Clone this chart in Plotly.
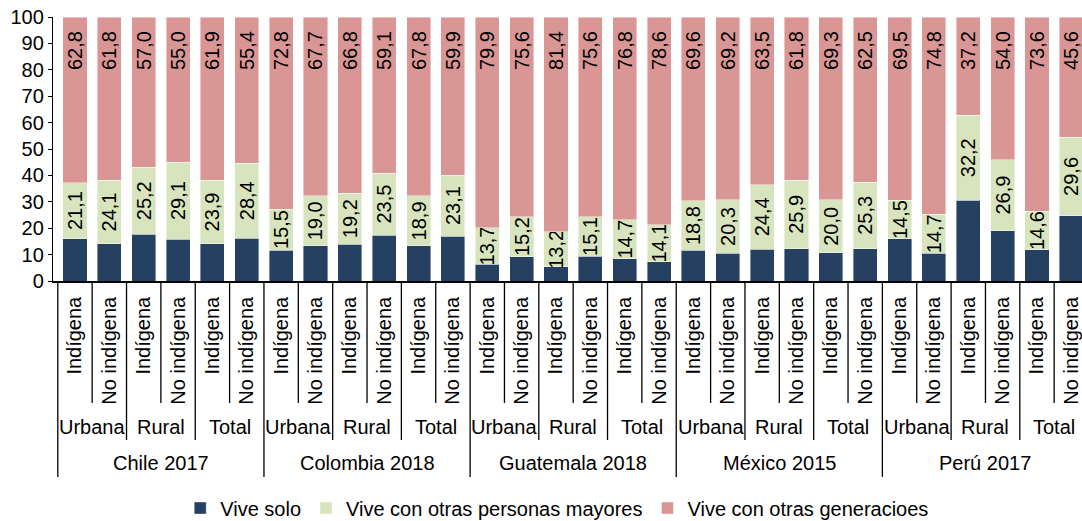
import plotly.graph_objects as go

countries = ["Chile 2017", "Colombia 2018", "Guatemala 2018", "México 2015", "Perú 2017"]
areas = ["Urbana", "Rural", "Total"]
groups = ["Indígena", "No indígena"]

vive_solo = [16.1, 14.1, 17.8, 15.9, 14.2, 16.2,
             11.7, 13.3, 14.0, 17.4, 13.3, 17.0,
             6.4, 9.2, 5.4, 9.3, 8.5, 7.3,
             11.6, 10.5, 12.1, 12.3, 10.7, 12.2,
             16.0, 10.5, 30.6, 19.1, 11.8, 24.8]
otras_mayores = [21.1, 24.1, 25.2, 29.1, 23.9, 28.4,
                 15.5, 19.0, 19.2, 23.5, 18.9, 23.1,
                 13.7, 15.2, 13.2, 15.1, 14.7, 14.1,
                 18.8, 20.3, 24.4, 25.9, 20.0, 25.3,
                 14.5, 14.7, 32.2, 26.9, 14.6, 29.6]
otras_generaciones = [62.8, 61.8, 57.0, 55.0, 61.9, 55.4,
                      72.8, 67.7, 66.8, 59.1, 67.8, 59.9,
                      79.9, 75.6, 81.4, 75.6, 76.8, 78.6,
                      69.6, 69.2, 63.5, 61.8, 69.3, 62.5,
                      69.5, 74.8, 37.2, 54.0, 73.6, 45.6]

series_names = ["Vive solo", "Vive con otras personas mayores", "Vive con otras generacioes"]
colors = ["#254061", "#D7E4BD", "#D99694"]

FONT = "Liberation Sans, Arial, sans-serif"
FS = 20

n = len(vive_solo)
xs = list(range(n))
ticktext = groups * (len(countries) * len(areas))


def fmt(v):
    return f"{v:.1f}".replace(".", ",")


fig = go.Figure()
fig.add_trace(go.Bar(x=xs, y=vive_solo, name=series_names[0],
                     marker=dict(color=colors[0], line=dict(width=0.6, color="rgba(255,255,255,0.7)")),
                     hoverinfo="skip"))
fig.add_trace(go.Bar(x=xs, y=otras_mayores, name=series_names[1],
                     marker=dict(color=colors[1], line=dict(width=0.6, color="rgba(255,255,255,0.7)")),
                     text=[fmt(v) for v in otras_mayores],
                     textposition="inside", insidetextanchor="middle", textangle=-90,
                     constraintext="none",
                     insidetextfont=dict(family=FONT, size=FS, color="black"),
                     hoverinfo="skip"))
fig.add_trace(go.Bar(x=xs, y=otras_generaciones, name=series_names[2],
                     marker=dict(color=colors[2], line=dict(width=0.6, color="rgba(255,255,255,0.7)")),
                     text=[fmt(v) + "\u00a0\u00a0" for v in otras_generaciones],
                     textposition="inside", insidetextanchor="end", textangle=-90,
                     constraintext="none",
                     insidetextfont=dict(family=FONT, size=FS, color="black"),
                     hoverinfo="skip"))

# hierarchical category separators and labels
shapes = []
annotations = []
INNER_END, GROUP_END, COUNTRY_END = -0.462, -0.602, -0.742
shapes.append(dict(type="line", xref="x", yref="paper", x0=-0.5, x1=-0.5, y0=0, y1=COUNTRY_END,
                   line=dict(color="black", width=1.3)))
for i in range(n - 1):
    b = i + 0.5
    if (i + 1) % (2 * len(areas)) == 0:
        y1 = COUNTRY_END
    elif (i + 1) % 2 == 0:
        y1 = GROUP_END
    else:
        y1 = INNER_END
    shapes.append(dict(type="line", xref="x", yref="paper", x0=b, x1=b, y0=0, y1=y1,
                       line=dict(color="black", width=1.3)))

for c, country in enumerate(countries):
    for a, area in enumerate(areas):
        center = c * 6 + a * 2 + 0.5
        annotations.append(dict(x=center, y=-0.552, xref="x", yref="paper", text=area,
                                showarrow=False, xanchor="center", yanchor="middle",
                                font=dict(family=FONT, size=FS, color="black")))
    annotations.append(dict(x=c * 6 + 2.5, y=-0.688, xref="x", yref="paper", text=country,
                            showarrow=False, xanchor="center", yanchor="middle",
                            font=dict(family=FONT, size=FS, color="black")))

fig.update_layout(
    width=1082, height=521,
    margin=dict(l=53, r=0, t=17, b=240, autoexpand=False),
    barmode="stack", bargap=0.3,
    plot_bgcolor="white", paper_bgcolor="white",
    font=dict(family=FONT, size=FS, color="black"),
    showlegend=True,
    legend=dict(orientation="h", x=0.49, xanchor="center", y=-0.86, yanchor="middle",
                traceorder="normal", font=dict(family=FONT, size=FS, color="black"),
                bgcolor="rgba(0,0,0,0)"),
    shapes=shapes,
    annotations=annotations,
    xaxis=dict(range=[-0.64, 29.31], tickmode="array", tickvals=xs, ticktext=ticktext,
               tickangle=-90, ticks="", showline=True, linecolor="black", linewidth=1.5,
               showgrid=False, zeroline=False, automargin=False, ticklabelstandoff=6,
               tickfont=dict(family=FONT, size=FS, color="black")),
    yaxis=dict(range=[0, 100], dtick=10, ticks="outside", ticklen=4, tickwidth=1.3,
               tickcolor="black", showline=True, linecolor="black", linewidth=1.3,
               showgrid=False, zeroline=False, automargin=False,
               tickfont=dict(family=FONT, size=FS, color="black")),
)

fig.write_html("out.html", config={"displayModeBar": False},
               post_script="document.body.style.margin='0';document.body.style.padding='0';")
